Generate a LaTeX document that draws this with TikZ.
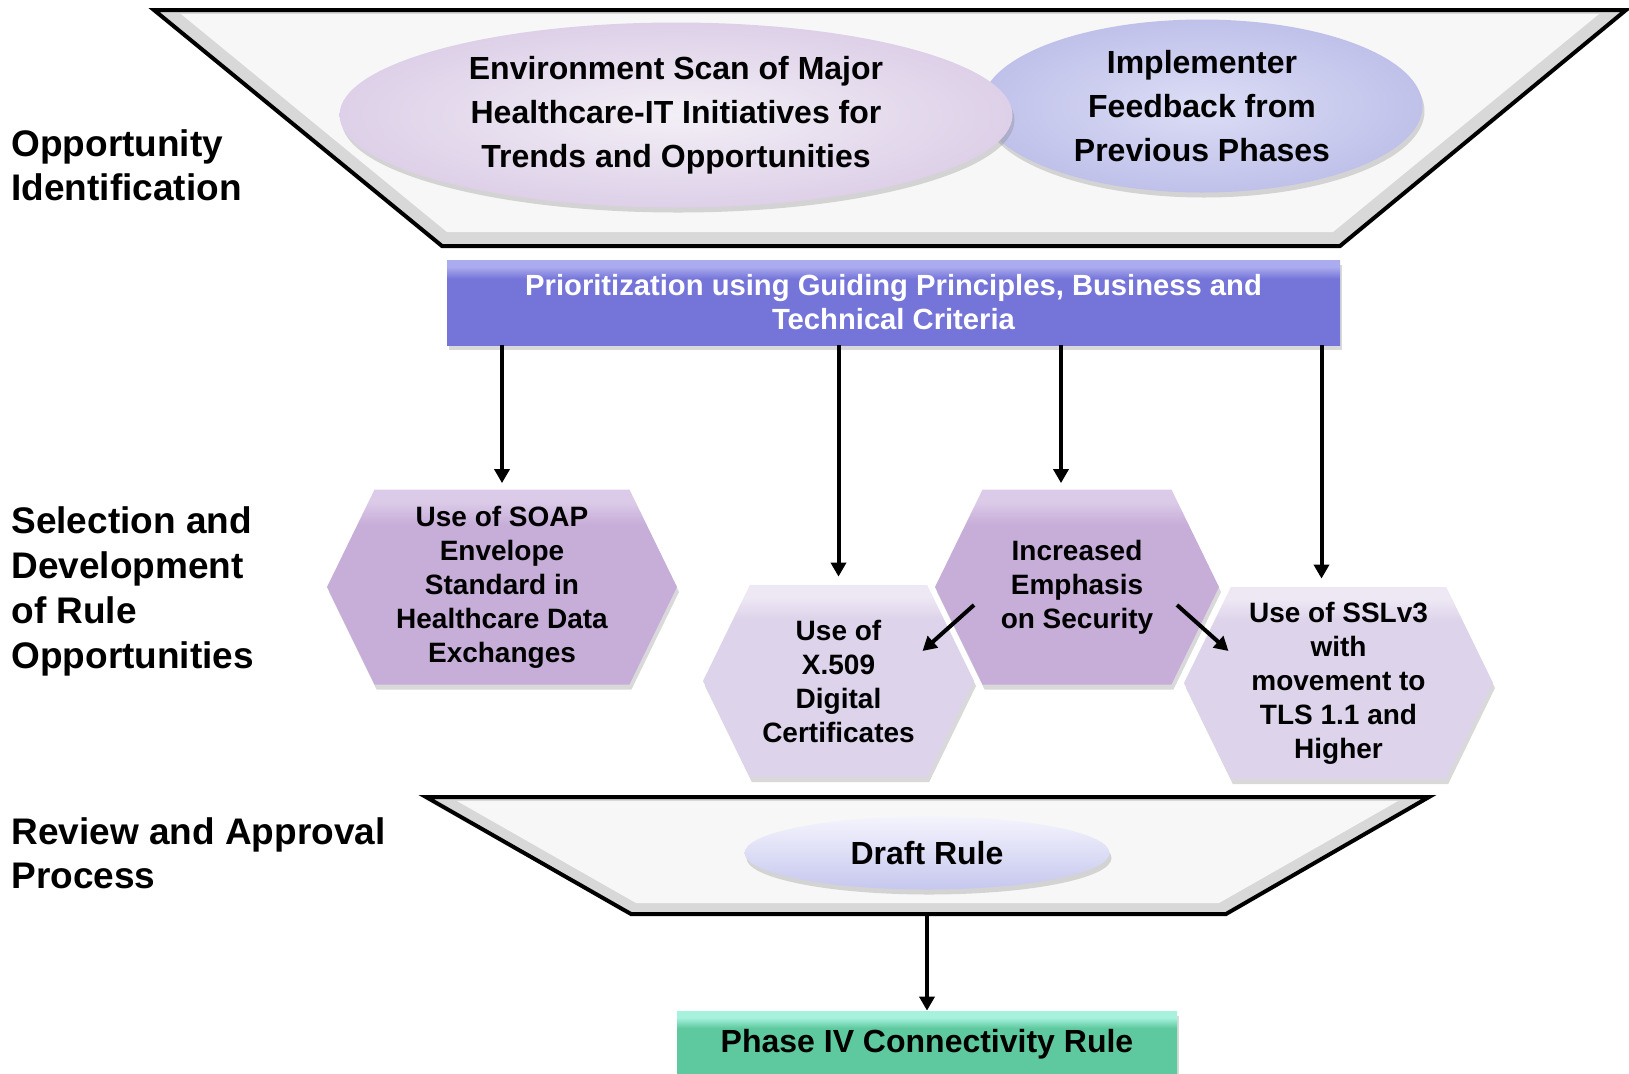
\documentclass[tikz,border=0pt]{standalone}
\usepackage{fontspec}
\setmainfont{Liberation Sans}
\usetikzlibrary{
  arrows.meta,
  positioning,
  shapes.geometric,
  shapes.symbols,
  shadows,
}
\definecolor{funnel}{HTML}{F7F7F7}
\definecolor{funnelrim}{HTML}{D8D8D8}
\definecolor{envin}{HTML}{F3EFF6}
\definecolor{envout}{HTML}{DDD0E8}
\definecolor{implin}{HTML}{DCDDF5}
\definecolor{implout}{HTML}{BFC1EA}
\definecolor{prtop}{HTML}{ABABEF}
\definecolor{prmain}{HTML}{7575D9}
\definecolor{hexdtop}{HTML}{DCCBE8}
\definecolor{hexdmain}{HTML}{C7AED9}
\definecolor{hexltop}{HTML}{EEE8F5}
\definecolor{hexlmain}{HTML}{DDD3EA}
\definecolor{drafttop}{HTML}{F4F4FD}
\definecolor{draftbot}{HTML}{C6C7EE}
\definecolor{phtop}{HTML}{A6F2DD}
\definecolor{phmain}{HTML}{5EC89E}
% bevel-like shadings: light strip on top, flat face below
\pgfdeclareverticalshading{prsh}{100bp}{color(0bp)=(prmain); color(64bp)=(prmain);
  color(71bp)=(prtop); color(100bp)=(prtop)}
\pgfdeclareverticalshading{hexdsh}{100bp}{color(0bp)=(hexdmain); color(66bp)=(hexdmain);
  color(72bp)=(hexdtop); color(100bp)=(hexdtop)}
\pgfdeclareverticalshading{hexlsh}{100bp}{color(0bp)=(hexlmain); color(66bp)=(hexlmain);
  color(72bp)=(hexltop); color(100bp)=(hexltop)}
\pgfdeclareverticalshading{phsh}{100bp}{color(0bp)=(phmain); color(62bp)=(phmain);
  color(70bp)=(phtop); color(100bp)=(phtop)}
\tikzset{
node distance=4em,
  x = 0.5pt,
  y = -0.5pt,
  shd/.style={drop shadow={opacity=.3, shadow xshift=1pt, shadow yshift=-2.5pt}},
  lbl/.style={
    align=left, anchor=west, inner sep=0pt,
    font=\fontsize{18.5}{22}\selectfont\bfseries,
  },
  oval/.style={
    ellipse, inner sep=0pt, align=center, shd,
    font=\fontsize{16}{22}\selectfont\bfseries,
  },
  bar/.style={
    rectangle, inner sep=0pt, align=center, text=white, shd,
    shading=prsh,
    font=\fontsize{14.6}{17}\selectfont\bfseries,
  },
  hex/.style={
    signal, signal to=west and east, signal pointer angle=128,
    inner sep=0pt, align=center, shd,
    font=\fontsize{14}{17}\selectfont\bfseries,
  },
  hexd/.style={hex, shading=hexdsh},
  hexl/.style={hex, shading=hexlsh},
  phase/.style={
    rectangle, inner sep=0pt, shd,
    shading=phsh,
    font=\fontsize{16}{20}\selectfont\bfseries,
  },
  >={Triangle[length=7pt,width=7.5pt]},
  link/.style={->, line width=2pt},
}

\begin{document}
\begin{tikzpicture}
  \useasboundingbox (0,0) rectangle (1629,1073);
  %% funnels
  \fill[funnelrim](154,10) -- (1626,10) -- (1340,246) -- (442,246) -- cycle;
  \fill[funnel](181,14) -- (1599,14) -- (1333,232) -- (447,232) -- cycle;
  \draw[line width=2pt](154,10) -- (1626,10) -- (1340,246) -- (442,246) -- cycle;
  %%
  \fill[funnelrim](426,797) -- (1429,797) -- (1226,914) -- (631,914) -- cycle;
  \fill[funnel](457,801) -- (1398,801) -- (1219,903) -- (636,903) -- cycle;
  \draw[line width=2pt](426,797) -- (1429,797) -- (1226,914) -- (631,914) -- cycle;
  \coordinate (RevOut) at (927,914);
  %% phase labels
  \node[lbl](Opp) at (11,165){Opportunity\\Identification};
  \node[lbl, font=\fontsize{18.5}{22.5}\selectfont\bfseries](Sel) at (11,591)
    {Selection and\\Development\\of Rule\\Opportunities};
  \node[lbl](Rev) at (11,853){Review and Approval\\Process};
  %% inputs
  \node[oval, minimum width=220.5pt, minimum height=86.5pt,
    inner color=implin, outer color=implout](Impl) at (1202,106)
    {Implementer\\Feedback from\\Previous Phases};
  \node[oval, minimum width=336.5pt, minimum height=92.5pt,
    inner color=envin, outer color=envout](Env) at (676,115)
    {Environment Scan of Major\\Healthcare-IT Initiatives for\\Trends and Opportunities};
  %%
  \node[bar, minimum width=446.5pt, minimum height=42.5pt](Prio) at (893.5,302.5)
    {Prioritization using Guiding Principles, Business and\\Technical Criteria};
  %% rule opportunities
  \node[hexd, minimum width=175pt, minimum height=97.5pt](Soap) at (502,587)
    {Use of SOAP\\Envelope\\Standard in\\Healthcare Data\\Exchanges};
  \node[hexd, minimum width=142pt, minimum height=97.5pt](Sec) at (1077,587)
    {Increased\\Emphasis\\on Security};
  \node[hexl, minimum width=135.5pt, minimum height=96pt](Xcert) at (838.5,681)
    {Use of\\X.509\\Digital\\Certificates};
  \node[hexl, minimum width=154.5pt, minimum height=96pt](Ssl) at (1338.5,683)
    {Use of SSLv3\\with\\movement to\\TLS 1.1 and\\Higher};
  %%
  \node[oval, minimum width=182.5pt, minimum height=36.5pt,
    top color=drafttop, bottom color=draftbot](Draft) at (927,853){Draft Rule};
  \node[phase, minimum width=250pt, minimum height=33pt](Phase) at (927,1044)
    {Phase IV Connectivity Rule};
  %% connectors
  \coordinate (SecIn) at ([xshift=-8pt]Sec.north);
  \coordinate (SslIn) at ([xshift=-8.5pt]Ssl.north);
  \draw[link, shorten >=3pt](Prio.south -| Soap.north) -- (Soap.north);
  \draw[link, shorten >=4pt](Prio.south -| Xcert.north) -- (Xcert.north);
  \draw[link, shorten >=3pt](Prio.south -| SecIn) -- (SecIn);
  \draw[link, shorten >=4pt](Prio.south -| SslIn) -- (SslIn);
  %%
  \draw[link]([shift={(-103,18)}]Sec.center) -- ([shift={(84,-30)}]Xcert.center);
  \draw[link]([shift={(100,18)}]Sec.center) -- ([shift={(-110,-32)}]Ssl.center);
  %%
  \draw[link](RevOut) -- (Phase.north);
\end{tikzpicture}
\end{document}
